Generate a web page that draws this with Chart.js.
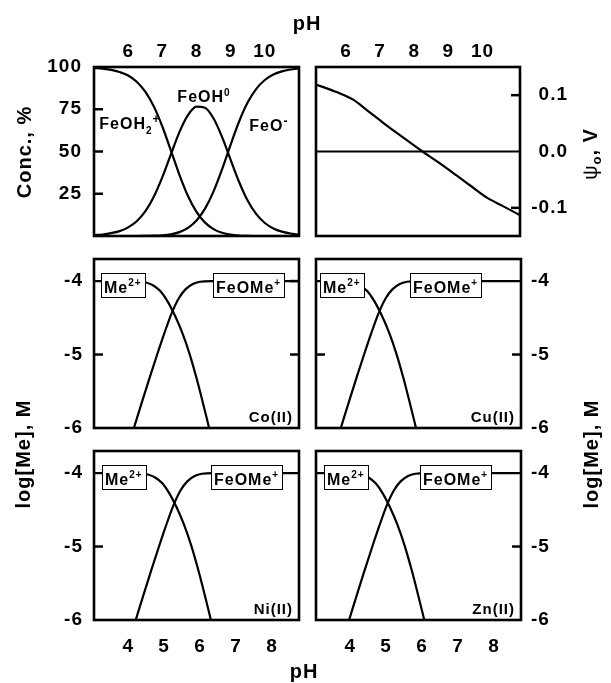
<!DOCTYPE html>
<html>
<head>
<meta charset="utf-8">
<title>FeOOH surface speciation and metal sorption</title>
<script src="https://cdn.jsdelivr.net/npm/chart.js@4.4.1/dist/chart.umd.min.js"></script>
<style>
  html, body { margin: 0; padding: 0; background: #fff; }
  #fig { position: relative; width: 611px; height: 683px; overflow: hidden;
         font-family: 'Liberation Sans', Arial, Helvetica, sans-serif; font-weight: bold; color: #000; }
  #fig canvas { position: absolute; left: 0; top: 0; }
  .ttl { position: absolute; font-size: 20px; letter-spacing: 1px; white-space: nowrap;
         transform: translate(-50%, -50%); }
  .ttl.rot { transform: translate(-50%, -50%) rotate(-90deg); }
  .ttl sub { font-size: 13px; vertical-align: -4px; line-height: 0; }
</style>
</head>
<body>
<div id="fig">
  <canvas id="cTL" width="611" height="683"></canvas>
  <canvas id="cTR" width="611" height="683"></canvas>
  <canvas id="cML" width="611" height="683"></canvas>
  <canvas id="cMR" width="611" height="683"></canvas>
  <canvas id="cBL" width="611" height="683"></canvas>
  <canvas id="cBR" width="611" height="683"></canvas>

  <div class="ttl" style="left:307px; top:23px">pH</div>
  <div class="ttl" style="left:304px; top:671px">pH</div>
  <div class="ttl rot" style="left:24px; top:152px">Conc., %</div>
  <div class="ttl rot" style="left:23px; top:454px">log[Me], M</div>
  <div class="ttl rot" style="left:590px; top:154px"><span style="font-weight:normal">ψ</span><sub>o</sub>, V</div>
  <div class="ttl rot" style="left:591px; top:454px">log[Me], M</div>
</div>

<script>
// tick labels
const topPHTicks = [6, 7, 8, 9, 10];
const bottomPHTicks = [4, 5, 6, 7, 8];
const concTicks = [25, 50, 75, 100];
const psiTicks = [-0.1, 0.0, 0.1];
const logTicks = [-6, -5, -4];

// top left: surface species, %
const concPH = [5.0, 5.25, 5.5, 5.75, 6.0, 6.25, 6.5, 6.75, 7.0, 7.25, 7.5, 7.75, 8.0,
                8.25, 8.5, 8.75, 9.0, 9.25, 9.5, 9.75, 10.0, 10.25, 10.5, 10.75, 11.0];
const feoh2Conc = [99.5, 99, 98.3, 97, 95, 91.3, 85.4, 76.7, 64.8, 50.6, 36.2, 23.7, 14.3,
                   7.9, 4.1, 1.9, 0.8, 0.3, 0.1, 0, 0, 0, 0, 0, 0];
const feoh0Conc = [0.5, 0.9, 1.7, 2.9, 5.1, 8.7, 14.5, 23.2, 34.8, 48.3, 61.5, 71.5, 76.5,
                   75.9, 69.5, 58.5, 45, 31.8, 20.8, 12.9, 7.7, 4.5, 2.6, 1.5, 0.8];
const feoConc = [0, 0, 0, 0, 0, 0, 0.1, 0.2, 0.4, 1, 2.3, 4.8, 9.2,
                 16.2, 26.4, 39.5, 54.1, 67.9, 79.1, 87.1, 92.3, 95.5, 97.4, 98.5, 99.2];

// top right: surface potential, V
const psiPH = [5.12, 5.7, 6.21, 6.6, 7.09, 7.6, 8.24, 8.7, 9.25, 9.7, 10.13, 10.6, 11.1];
const psiV = [0.119, 0.106, 0.092, 0.074, 0.051, 0.028, 0.0, -0.019, -0.043, -0.063, -0.082, -0.097, -0.113];
const zeroPH = [5.12, 11.1];
const zeroV = [0, 0];

// lower panels: log[Me] for free Me2+ and FeOMe+
const meLog = [-4.0, -4.0, -4.02, -4.06, -4.14, -4.28, -4.47, -4.7, -4.98, -5.32, -5.7, -6.0];
const feomeLog = [-6.0, -5.62, -5.31, -5.01, -4.72, -4.45, -4.24, -4.11, -4.04, -4.01, -4.0, -4.0];
const coMePH = [3.05, 4.2, 4.5, 4.7, 4.9, 5.1, 5.3, 5.5, 5.7, 5.9, 6.1, 6.25];
const coFePH = [4.16, 4.4, 4.6, 4.8, 5.0, 5.2, 5.4, 5.6, 5.8, 6.0, 6.3, 8.75];
const cuMePH = [3.05, 3.78, 4.08, 4.28, 4.48, 4.68, 4.88, 5.08, 5.28, 5.48, 5.68, 5.83];
const cuFePH = [3.74, 3.98, 4.18, 4.38, 4.58, 4.78, 4.98, 5.18, 5.38, 5.58, 5.88, 8.75];
const niMePH = [3.05, 4.25, 4.55, 4.75, 4.95, 5.15, 5.35, 5.55, 5.75, 5.95, 6.15, 6.3];
const niFePH = [4.21, 4.45, 4.65, 4.85, 5.05, 5.25, 5.45, 5.65, 5.85, 6.05, 6.35, 8.75];
const znMePH = [3.05, 4.01, 4.31, 4.51, 4.71, 4.91, 5.11, 5.31, 5.51, 5.71, 5.91, 6.06];
const znFePH = [3.97, 4.21, 4.41, 4.61, 4.81, 5.01, 5.21, 5.41, 5.61, 5.81, 6.11, 8.75];

const FONT = "'Liberation Sans', Arial, sans-serif";
const tickFont = { family: FONT, size: 19, weight: 'bold' };
const meParts = [['Me', 16], ['2+', 10, -7.5]];
const feomeParts = [['FeOMe', 16], ['+', 10, -7.5]];

function pts(xs, ys) {
    return xs.map((x, i) => ({ x: x, y: ys[i] }));
}

function line(xs, ys, straight) {
    return {
        data: pts(xs, ys),
        borderColor: '#000',
        borderWidth: 2.2,
        pointRadius: 0,
        fill: false,
        tension: 0,
        cubicInterpolationMode: straight ? 'default' : 'monotone'
    };
}

function drawParts(ctx, x, y, parts) {
    let cx = x;
    parts.forEach(([t, size, dy]) => {
        ctx.font = 'bold ' + size + 'px ' + FONT;
        ctx.fillText(t, cx, y + (dy || 0));
        cx += ctx.measureText(t).width;
    });
    return cx - x;
}

function partsWidth(ctx, parts) {
    let w = 0;
    parts.forEach(([t, size]) => {
        ctx.font = 'bold ' + size + 'px ' + FONT;
        w += ctx.measureText(t).width;
    });
    return w;
}

// frame, inward ticks, boxed labels and species names
const decor = {
    id: 'decor',
    beforeDraw(chart) {
        chart.ctx.letterSpacing = '1px';
    },
    afterDatasetsDraw(chart, args, o) {
        const ctx = chart.ctx, a = chart.chartArea;
        const sx = chart.scales.x, sy = chart.scales.y;
        ctx.save();
        ctx.textBaseline = 'alphabetic';
        ctx.textAlign = 'left';
        ctx.strokeStyle = '#000';

        (o.boxes || []).forEach(b => {
            const left = Math.round(sx.getPixelForValue(b.x));
            const top = Math.round(sy.getPixelForValue(b.y)) - 8;
            const w = Math.round(partsWidth(ctx, b.parts)) + 6;
            ctx.fillStyle = '#fff';
            ctx.fillRect(left, top, w, 24);
            ctx.lineWidth = 1;
            ctx.strokeRect(left + 0.5, top + 0.5, w, 24);
            ctx.fillStyle = '#000';
            drawParts(ctx, left + 3, top + 20, b.parts);
        });

        ctx.fillStyle = '#000';
        (o.texts || []).forEach(t => {
            drawParts(ctx, sx.getPixelForValue(t.x), sy.getPixelForValue(t.y), t.parts);
        });

        if (o.tag) {
            ctx.font = 'bold 15px ' + FONT;
            ctx.textAlign = 'right';
            ctx.fillText(o.tag, a.right - 6, a.bottom - 6.5);
        }

        ctx.lineWidth = 2.5;
        (o.leftMarks || []).forEach(v => {
            const y = sy.getPixelForValue(v);
            ctx.beginPath(); ctx.moveTo(a.left, y); ctx.lineTo(a.left + 9, y); ctx.stroke();
        });
        (o.rightMarks || []).forEach(v => {
            const y = sy.getPixelForValue(v);
            ctx.beginPath(); ctx.moveTo(a.right, y); ctx.lineTo(a.right - 9, y); ctx.stroke();
        });

        ctx.lineWidth = 2.6;
        ctx.strokeRect(a.left, a.top, a.right - a.left, a.bottom - a.top);
        ctx.restore();
    }
};

const logFmt = v => String(v);

const panels = [
    {
        id: 'cTL', rect: [94, 67, 299, 236],
        xMin: 5, xMax: 11, xPos: 'top', xTicks: topPHTicks,
        yMin: 0, yMax: 100, yPos: 'left', yTicks: concTicks, yWidth: 60, yPad: 12, fmt: v => String(v),
        series: [[concPH, feoh2Conc], [concPH, feoh0Conc], [concPH, feoConc]],
        decor: {
            leftMarks: [25, 50, 75],
            texts: [
                { x: 5.155, y: 63.5, parts: [['FeOH', 16], ['2', 10, 5], ['+', 12, -6]] },
                { x: 7.44, y: 79.3, parts: [['FeOH', 16], ['0', 10, -6]] },
                { x: 9.545, y: 62, parts: [['FeO', 16], ['-', 12, -6]] }
            ]
        }
    },
    {
        id: 'cTR', rect: [316, 67, 520, 236],
        xMin: 5.12, xMax: 11.1, xPos: 'top', xTicks: topPHTicks,
        yMin: -0.15, yMax: 0.15, yPos: 'right', yTicks: psiTicks, yWidth: 48, yPad: 10, yAlign: 'far',
        fmt: v => v.toFixed(1),
        series: [[psiPH, psiV], [zeroPH, zeroV, true]],
        decor: { rightMarks: [0.1, -0.1] }
    },
    {
        id: 'cML', rect: [94, 259, 299, 428],
        xMin: 3.05, xMax: 8.75,
        yMin: -6, yMax: -3.7, yPos: 'left', yTicks: logTicks, yWidth: 60, yPad: 11, fmt: logFmt,
        series: [[coMePH, meLog], [coFePH, feomeLog]],
        decor: {
            tag: 'Co(II)', leftMarks: [-5], rightMarks: [-5, -4],
            boxes: [{ x: 3.24, y: -4, parts: meParts }, { x: 6.36, y: -4, parts: feomeParts }]
        }
    },
    {
        id: 'cMR', rect: [316, 259, 521, 428],
        xMin: 3.05, xMax: 8.75,
        yMin: -6, yMax: -3.7, yPos: 'right', yTicks: logTicks, yWidth: 40, yPad: 10, fmt: logFmt,
        series: [[cuMePH, meLog], [cuFePH, feomeLog]],
        decor: {
            tag: 'Cu(II)', leftMarks: [-5], rightMarks: [-5],
            boxes: [{ x: 3.17, y: -4, parts: meParts }, { x: 5.65, y: -4, parts: feomeParts }]
        }
    },
    {
        id: 'cBL', rect: [94, 451, 299, 620],
        xMin: 3.05, xMax: 8.75, xPos: 'bottom', xTicks: bottomPHTicks,
        yMin: -6, yMax: -3.7, yPos: 'left', yTicks: logTicks, yWidth: 60, yPad: 11, fmt: logFmt,
        series: [[niMePH, meLog], [niFePH, feomeLog]],
        decor: {
            tag: 'Ni(II)', leftMarks: [-5],
            boxes: [{ x: 3.28, y: -4, parts: meParts }, { x: 6.29, y: -4, parts: feomeParts }]
        }
    },
    {
        id: 'cBR', rect: [316, 451, 521, 620],
        xMin: 3.05, xMax: 8.75, xPos: 'bottom', xTicks: bottomPHTicks,
        yMin: -6, yMax: -3.7, yPos: 'right', yTicks: logTicks, yWidth: 40, yPad: 10, fmt: logFmt,
        series: [[znMePH, meLog], [znFePH, feomeLog]],
        decor: {
            tag: 'Zn(II)', rightMarks: [-5],
            boxes: [{ x: 3.26, y: -4, parts: meParts }, { x: 5.95, y: -4, parts: feomeParts }]
        }
    }
];

const W = 611, H = 683, X_AXIS_H = 40;

function makePanel(p) {
    const [l, t, r, b] = p.rect;
    const padding = {
        left: p.yPos === 'left' ? l - p.yWidth : l,
        right: p.yPos === 'right' ? W - r - p.yWidth : W - r,
        top: p.xPos === 'top' ? t - X_AXIS_H : t,
        bottom: p.xPos === 'bottom' ? H - b - X_AXIS_H : H - b
    };

    new Chart(document.getElementById(p.id), {
        type: 'line',
        data: { datasets: p.series.map(s => line(s[0], s[1], s[2])) },
        options: {
            responsive: false,
            animation: false,
            devicePixelRatio: 1,
            events: [],
            layout: { padding: padding },
            plugins: {
                legend: { display: false },
                tooltip: { enabled: false },
                decor: p.decor
            },
            scales: {
                x: {
                    type: 'linear',
                    min: p.xMin,
                    max: p.xMax,
                    display: !!p.xPos,
                    position: p.xPos || 'bottom',
                    grid: { display: false, drawTicks: false },
                    border: { display: false },
                    ticks: {
                        font: tickFont,
                        color: '#000',
                        padding: p.xPos === 'top' ? 4 : 15,
                        autoSkip: false,
                        maxRotation: 0
                    },
                    afterBuildTicks: s => {
                        if (p.xTicks) s.ticks = p.xTicks.map(v => ({ value: v }));
                    },
                    afterFit: s => { s.height = p.xPos ? X_AXIS_H : 0; }
                },
                y: {
                    type: 'linear',
                    min: p.yMin,
                    max: p.yMax,
                    position: p.yPos,
                    grid: { display: false, drawTicks: false },
                    border: { display: false },
                    ticks: {
                        font: tickFont,
                        color: '#000',
                        padding: p.yPad,
                        crossAlign: p.yAlign || 'near',
                        callback: p.fmt
                    },
                    afterBuildTicks: s => { s.ticks = p.yTicks.map(v => ({ value: v })); },
                    afterFit: s => { s.width = p.yWidth; }
                }
            }
        },
        plugins: [decor]
    });
}

panels.forEach(makePanel);
</script>
</body>
</html>
